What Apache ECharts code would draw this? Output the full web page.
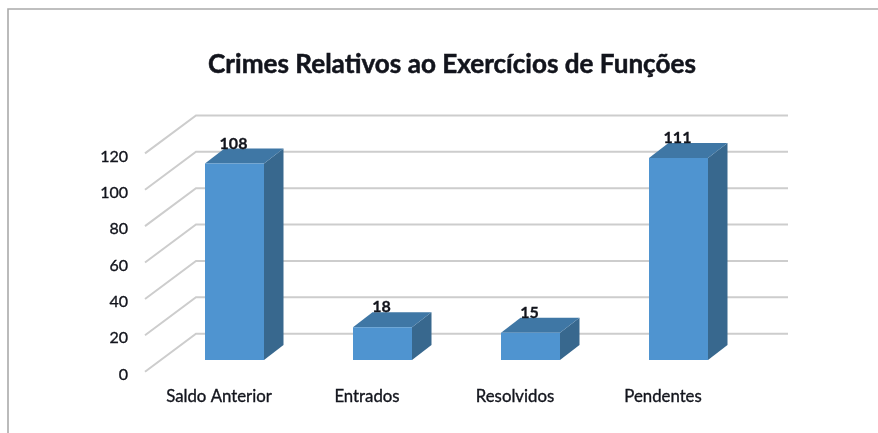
<!DOCTYPE html>
<html><head><meta charset="utf-8">
<style>html,body{margin:0;padding:0;background:#fff}#c{width:878px;height:433px}</style>
<script src="https://cdn.jsdelivr.net/npm/echarts@6/dist/echarts.min.js"></script></head>
<body><div id="c"></div>
<script>
const categories = ['Saldo Anterior','Entrados','Resolvidos','Pendentes'];
const values = [108,18,15,111];
const gridTicks = [0,20,40,60,80,100,120];
const chartTitle = 'Crimes Relativos ao Exercícios de Funções';

const FONT = 'Lato,"Open Sans",sans-serif';
const TEXT = '#12141c';
const WALL = {dx:51, dy:-38, width:592};
const BAR = {dx:15.5, dy:-11.7, w:59, depthX:19.5, depthY:-15};
const thin = {textBorderColor:TEXT,textBorderWidth:0.35};

const chart = echarts.init(document.getElementById('c'),null,{renderer:'canvas'});
chart.setOption({
  animation:false,
  backgroundColor:'#fff',
  title:{text:chartTitle,left:447,top:47,textAlign:'center',
    textStyle:{fontFamily:FONT,fontSize:26.1,fontWeight:'bold',color:TEXT,textBorderColor:TEXT,textBorderWidth:0.5}},
  grid:{left:145,right:141,top:153.4,bottom:61.3,containLabel:false},
  xAxis:{type:'category',data:categories,
    axisLine:{show:false},axisTick:{show:false},splitLine:{show:false},
    axisLabel:Object.assign({margin:16,fontFamily:FONT,fontSize:16.8,color:TEXT,interval:0},thin)},
  yAxis:{type:'value',min:0,max:120,interval:20,
    axisLine:{show:false},axisTick:{show:false},splitLine:{show:false},
    axisLabel:Object.assign({margin:17,verticalAlign:'top',lineHeight:6,fontFamily:FONT,fontSize:16,color:TEXT},thin)},
  graphic:[
    {type:'polyline',silent:true,shape:{points:[[8,433],[8,9],[878,9]]},
     style:{stroke:'#ababab',lineWidth:1.6,fill:null},z:0}
  ],
  series:[
    {type:'custom',coordinateSystem:'cartesian2d',z:1,silent:true,
     data:gridTicks.map(v=>[0,v]),
     encode:{x:0,y:1},
     renderItem(params,api){
       const y=api.coord([0,api.value(1)])[1];
       const x=params.coordSys.x;
       return {type:'polyline',shape:{points:[[x,y],[x+WALL.dx,y+WALL.dy],[x+WALL.dx+WALL.width,y+WALL.dy]]},
         style:{stroke:'#cdcdcd',lineWidth:2,fill:null}};
     }},
    {type:'custom',coordinateSystem:'cartesian2d',z:2,silent:true,
     data:values.map((v,i)=>[i,v]),
     encode:{x:0,y:1},
     renderItem(params,api){
       const top=api.coord([api.value(0),api.value(1)]);
       const base=api.coord([api.value(0),0]);
       const xl=top[0]+BAR.dx-BAR.w/2, xr=xl+BAR.w;
       const yt=top[1]+BAR.dy, yb=base[1]+BAR.dy;
       const dx=BAR.depthX, dy=BAR.depthY;
       return {type:'group',children:[
         {type:'polygon',shape:{points:[[xr,yt],[xr+dx,yt+dy],[xr+dx,yb+dy],[xr,yb]]},style:{fill:'#38688e'}},
         {type:'polygon',shape:{points:[[xl,yt],[xl+dx,yt+dy],[xr+dx,yt+dy],[xr,yt]]},style:{fill:'#3f77a5'}},
         {type:'rect',shape:{x:xl,y:yt,width:BAR.w,height:yb-yt},style:{fill:'#4f94d0'}},
         {type:'text',style:{text:String(api.value(1)),x:(xl+xr)/2-1,y:yt-20,align:'center',verticalAlign:'middle',
           fontFamily:FONT,fontSize:16,fontWeight:'bold',fill:TEXT,stroke:TEXT,lineWidth:0.3}}
       ]};
     }}
  ]
});
</script></body></html>
